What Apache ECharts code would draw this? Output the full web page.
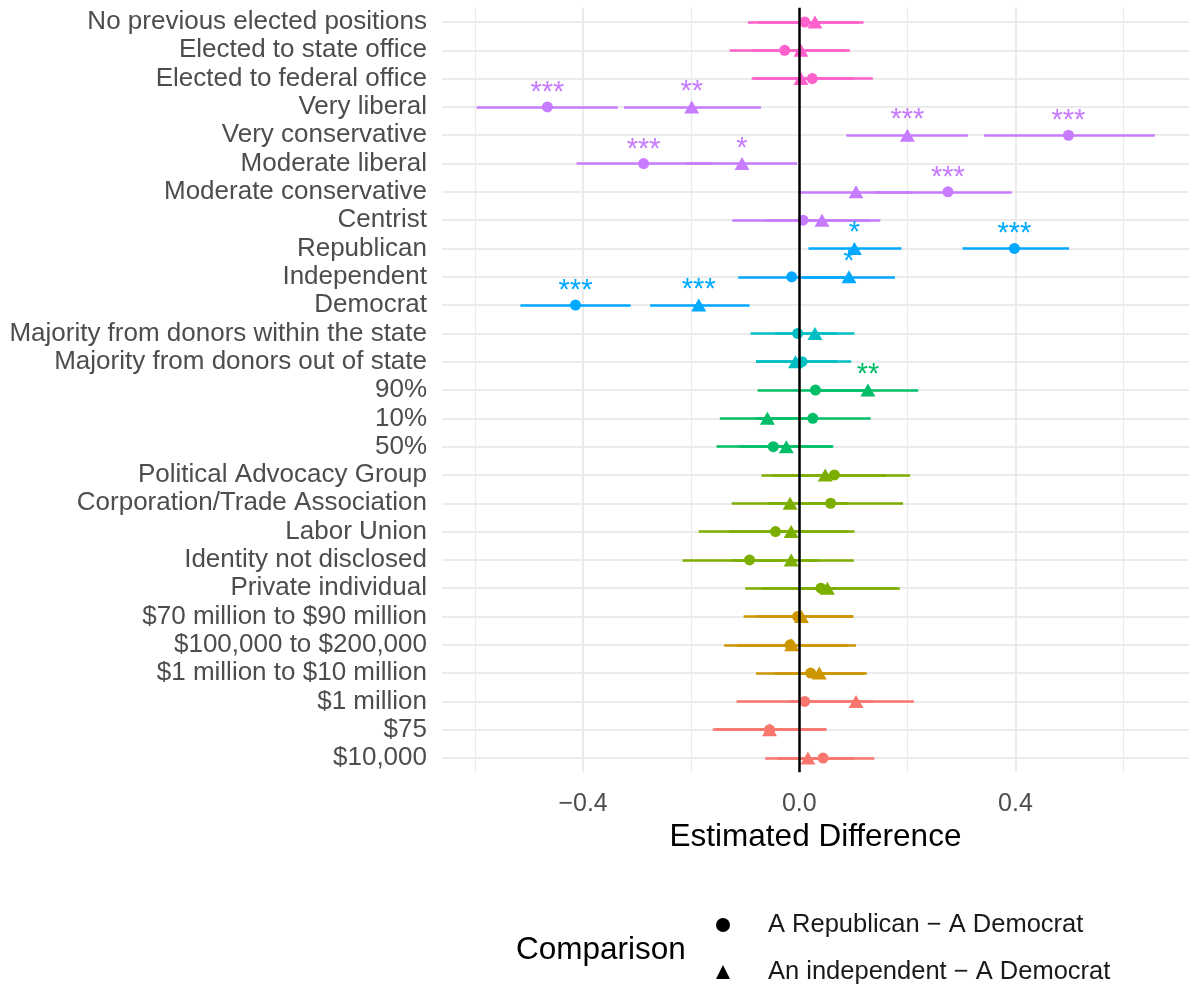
<!DOCTYPE html>
<html>
<head>
<meta charset="utf-8">
<script src="https://cdn.jsdelivr.net/npm/echarts@6/dist/echarts.min.js"></script>
<style>
  html, body { margin: 0; padding: 0; background: #fff; }
  #chart { width: 1193px; height: 993px; }
</style>
</head>
<body>
<div id="chart"></div>
<script>
// rows, top to bottom
const categories = [
  'No previous elected positions', 'Elected to state office', 'Elected to federal office',
  'Very liberal', 'Very conservative', 'Moderate liberal', 'Moderate conservative', 'Centrist',
  'Republican', 'Independent', 'Democrat',
  'Majority from donors within the state', 'Majority from donors out of state',
  '90%', '10%', '50%',
  'Political Advocacy Group', 'Corporation/Trade Association', 'Labor Union', 'Identity not disclosed', 'Private individual',
  '$70 million to $90 million', '$100,000 to $200,000', '$1 million to $10 million',
  '$1 million', '$75', '$10,000'
]
const groupOf = [7, 7, 7, 6, 6, 6, 6, 6, 5, 5, 5, 4, 4, 3, 3, 3, 2, 2, 2, 2, 2, 1, 1, 1, 0, 0, 0]
const groupColors = ['#F8766D', '#CD9600', '#7CAE00', '#00BE67', '#00BFC4', '#00A9FF', '#C77CFF', '#FF61CC']

// A Republican - A Democrat
const repEst = [0.010, -0.027, 0.024, -0.466, 0.498, -0.288, 0.275, 0.007, 0.398, -0.014, -0.414, -0.003, 0.005, 0.030, 0.025, -0.048, 0.065, 0.058, -0.044, -0.092, 0.040, -0.003, -0.017, 0.021, 0.010, -0.055, 0.044]
const repLo = [-0.095, -0.129, -0.088, -0.597, 0.342, -0.412, 0.140, -0.124, 0.302, -0.113, -0.516, -0.090, -0.080, -0.077, -0.080, -0.153, -0.050, -0.060, -0.186, -0.216, -0.100, -0.103, -0.139, -0.080, -0.116, -0.160, -0.040]
const repHi = [0.110, 0.087, 0.136, -0.336, 0.658, -0.160, 0.393, 0.130, 0.499, 0.085, -0.312, 0.070, 0.096, 0.130, 0.132, 0.060, 0.205, 0.192, 0.090, 0.035, 0.186, 0.100, 0.090, 0.120, 0.137, 0.050, 0.139]
const repStars = ['', '', '', '***', '***', '***', '***', '', '***', '', '***', '', '', '', '', '', '', '', '', '', '', '', '', '', '', '', '']

// An independent - A Democrat
const indEst = [0.029, 0.003, 0.003, -0.199, 0.200, -0.106, 0.105, 0.042, 0.102, 0.092, -0.186, 0.029, -0.007, 0.127, -0.059, -0.024, 0.048, -0.017, -0.015, -0.015, 0.052, 0.004, -0.014, 0.037, 0.105, -0.055, 0.016]
const indLo = [-0.075, -0.087, -0.085, -0.324, 0.087, -0.209, -0.002, -0.065, 0.017, 0.007, -0.276, -0.045, -0.080, 0.030, -0.147, -0.110, -0.070, -0.125, -0.130, -0.125, -0.068, -0.080, -0.115, -0.045, -0.020, -0.155, -0.063]
const indHi = [0.119, 0.094, 0.100, -0.071, 0.312, -0.004, 0.210, 0.150, 0.189, 0.177, -0.092, 0.102, 0.070, 0.220, 0.030, 0.063, 0.160, 0.090, 0.102, 0.101, 0.180, 0.100, 0.105, 0.125, 0.212, 0.050, 0.100]
const indStars = ['', '', '', '**', '***', '*', '', '', '*', '*', '***', '', '', '**', '', '', '', '', '', '', '', '', '', '', '', '', '']

const gridValues = [-0.6, -0.4, -0.2, 0, 0.2, 0.4, 0.6]
const tickValues = [-0.4, 0, 0.4]

const font = "'Liberation Sans', Arial, sans-serif"
const colorOf = i => groupColors[groupOf[i]]

function barData (lo, hi) {
  return categories.map((c, i) => ({
    coords: [[lo[i], c], [hi[i], c]],
    lineStyle: { color: colorOf(i), width: 2.7, opacity: 1 }
  }))
}
function pointData (est, stars) {
  return categories.map((c, i) => ({
    value: [est[i], i],
    itemStyle: { color: colorOf(i) },
    label: { color: colorOf(i), formatter: stars[i] }
  }))
}
const starLabel = {
  show: true,
  position: 'top',
  distance: -6,
  fontSize: 29,
  fontFamily: font,
  textBorderWidth: 0,
  textShadowBlur: 0
}

const chart = echarts.init(document.getElementById('chart'))
chart.setOption({
  animation: false,
  title: {
    text: 'Comparison',
    left: 511,
    top: 929,
    textStyle: { fontSize: 31.5, fontWeight: 'normal', color: '#000', fontFamily: font }
  },
  legend: {
    orient: 'vertical',
    left: 711,
    top: 907,
    itemWidth: 14,
    itemHeight: 14,
    itemGap: 21,
    data: ['A Republican \u2212 A Democrat', 'An independent \u2212 A Democrat'],
    textStyle: { fontSize: 25.5, color: '#1a1a1a', fontFamily: font, padding: [0, 0, 0, 33] }
  },
  grid: { left: 442, right: 4, top: 7.85, bottom: 220.8 },
  xAxis: {
    type: 'value',
    min: -0.661,
    max: 0.721,
    name: 'Estimated Difference',
    nameLocation: 'middle',
    nameGap: 43,
    nameTextStyle: { fontSize: 31.5, color: '#000', fontFamily: font },
    axisLine: { show: false },
    axisTick: { show: false },
    splitLine: { show: false },
    axisLabel: {
      customValues: tickValues,
      fontSize: 25,
      color: '#4D4D4D',
      fontFamily: font,
      margin: 19,
      formatter: v => (v < 0 ? '\u2212' : '') + Math.abs(v).toFixed(1)
    }
  },
  yAxis: {
    type: 'category',
    inverse: true,
    data: categories,
    axisLine: { show: false },
    axisTick: { show: false },
    splitLine: { show: false },
    axisLabel: { interval: 0, fontSize: 26, color: '#4D4D4D', fontFamily: font, margin: 15 }
  },
  series: [
    {
      // panel grid, kept below everything
      type: 'line',
      data: [],
      z: 0,
      silent: true,
      markLine: {
        z: 0,
        silent: true,
        symbol: 'none',
        label: { show: false },
        animation: false,
        data: categories.map(c => ({ yAxis: c, lineStyle: { color: '#EBEBEB', width: 2, type: 'solid' } }))
          .concat(gridValues.map(v => ({
            xAxis: v,
            lineStyle: { color: '#EBEBEB', width: tickValues.includes(v) ? 2 : 1.3, type: 'solid' }
          })))
      }
    },
    {
      type: 'lines',
      name: 'repBar',
      coordinateSystem: 'cartesian2d',
      z: 2,
      silent: true,
      data: barData(repLo, repHi)
    },
    {
      type: 'lines',
      name: 'indBar',
      coordinateSystem: 'cartesian2d',
      z: 2,
      silent: true,
      data: barData(indLo, indHi)
    },
    {
      type: 'scatter',
      name: 'A Republican \u2212 A Democrat',
      symbol: 'circle',
      symbolSize: 11,
      z: 3,
      itemStyle: { color: '#000', opacity: 1 },
      label: starLabel,
      data: pointData(repEst, repStars)
    },
    {
      type: 'scatter',
      name: 'An independent \u2212 A Democrat',
      symbol: 'triangle',
      symbolSize: [15, 13],
      z: 3,
      itemStyle: { color: '#000', opacity: 1 },
      label: starLabel,
      data: pointData(indEst, indStars)
    },
    {
      // zero reference line
      type: 'line',
      data: [],
      z: 5,
      silent: true,
      markLine: {
        z: 6,
        silent: true,
        symbol: 'none',
        label: { show: false },
        animation: false,
        data: [{ xAxis: 0, lineStyle: { color: '#000', width: 2.5, type: 'solid' } }]
      }
    }
  ]
})
</script>
</body>
</html>
